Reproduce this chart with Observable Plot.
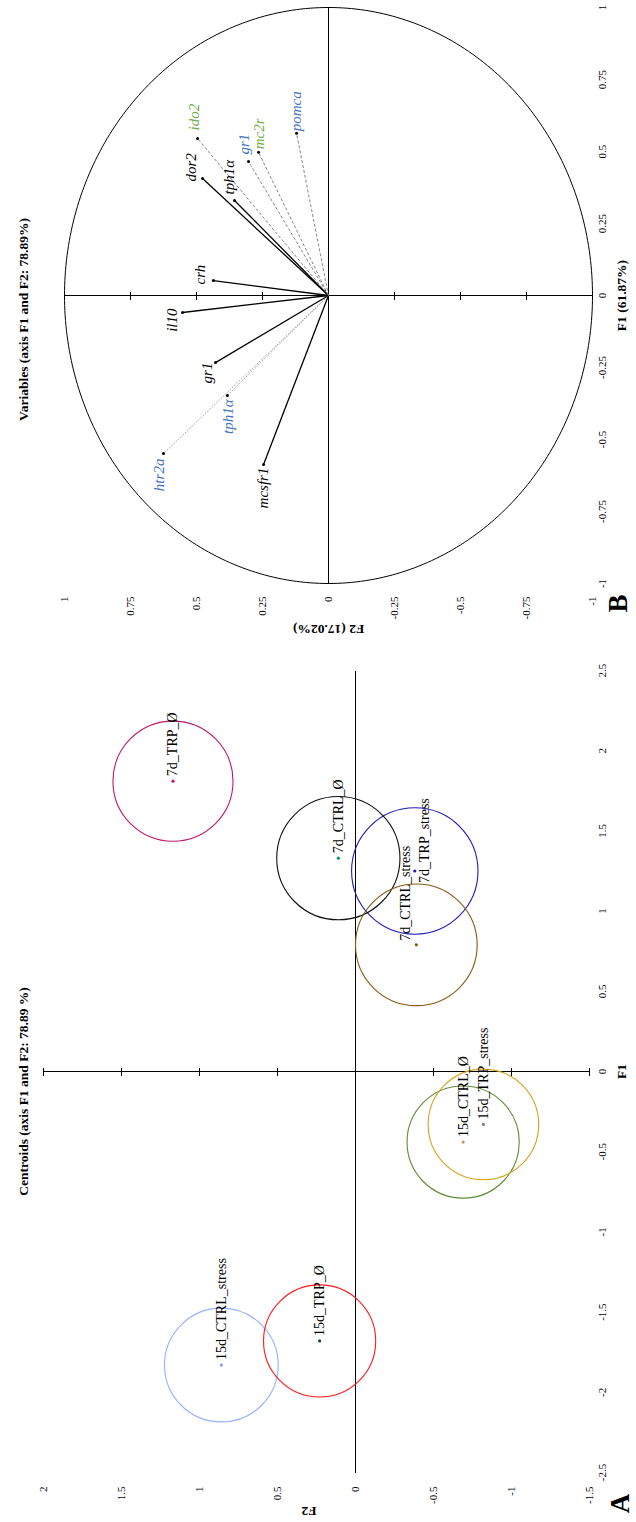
<!DOCTYPE html>
<html><head><meta charset="utf-8">
<script src="https://cdn.jsdelivr.net/npm/d3@7"></script>
<script src="https://cdn.jsdelivr.net/npm/@observablehq/plot@0.6"></script>
<style>
html,body{margin:0;padding:0;background:#fff;}
body{width:636px;height:1522px;overflow:hidden;position:relative;}
#wrap{position:absolute;left:0;top:0;width:1522px;height:636px;transform-origin:0 0;transform:translate(0px,1522px) rotate(-90deg);}
#wrap svg{position:absolute;left:0;top:0;}
</style></head><body><div id="wrap"></div>
<script>
// ---------- Panel A: centroids ----------
const centroidNames  = ["7d_CTRL_Ø","7d_CTRL_stress","7d_TRP_Ø","7d_TRP_stress","15d_CTRL_Ø","15d_CTRL_stress","15d_TRP_Ø","15d_TRP_stress"];
const centroidF1     = [1.33, 0.79, 1.81, 1.25, -0.44, -1.83, -1.68, -0.33];
const centroidF2     = [0.11, -0.39, 1.17, -0.38, -0.69, 0.86, 0.23, -0.82];
const centroidRadius = [0.39, 0.385, 0.38, 0.40, 0.355, 0.36, 0.355, 0.35];
const f1TicksA = [-2.5,-2,-1.5,-1,-0.5,0,0.5,1,1.5,2,2.5];
const f2TicksA = [-1.5,-1,-0.5,0,0.5,1,1.5,2];
const titleA = "Centroids (axis F1 and F2: 78.89 %)";

// ---------- Panel B: variables ----------
const varNames  = ["dor2","tph1α","crh","il10","gr1","mcsfr1","ido2","mc2r","gr1","pomca","tph1α","htr2a"];
const varF1     = [0.406, 0.330, 0.052, -0.059, -0.233, -0.587, 0.545, 0.497, 0.465, 0.563, -0.347, -0.549];
const varF2     = [0.477, 0.356, 0.436, 0.553, 0.428, 0.246, 0.496, 0.265, 0.303, 0.121, 0.383, 0.625];
const varGroup  = ["g1","g1","g1","g1","g1","g1","g3","g3","g2","g2","g2","g2"];
const varLink   = ["l1","l1","l1","l1","l1","l1","l2","l2","l2","l2","l3","l3"];
const f1TicksB = [-1,-0.75,-0.5,-0.25,0,0.25,0.5,0.75,1];
const f2TicksB = [-1,-0.75,-0.5,-0.25,0,0.25,0.5,0.75,1];
const titleB = "Variables (axis F1 and F2: 78.89%)";

// ---------- styles ----------
const circleColor = {"7d_CTRL_Ø":"#111111","7d_CTRL_stress":"#8a5a12","7d_TRP_Ø":"#c0186a","7d_TRP_stress":"#1a1ac0",
  "15d_CTRL_Ø":"#5e8c34","15d_CTRL_stress":"#93b2ff","15d_TRP_Ø":"#ff1a1a","15d_TRP_stress":"#d6a21c"};
const dotColor = {"7d_CTRL_Ø":"#00995a","7d_CTRL_stress":"#8a5a12","7d_TRP_Ø":"#c0186a","7d_TRP_stress":"#1a1ac0",
  "15d_CTRL_Ø":"#c8945a","15d_CTRL_stress":"#7f9fff","15d_TRP_Ø":"#0b4d40","15d_TRP_stress":"#8e7c8e"};
const groupColor = {g1:"#000000", g2:"#4472c4", g3:"#70ad47"};
const linkStyle = {l1:{stroke:"#000", strokeWidth:1.3}, l2:{stroke:"#666", strokeWidth:0.8, strokeDasharray:"3,2"}, l3:{stroke:"#777", strokeWidth:0.9, strokeDasharray:"1,1.5"}};
const serif = "'Liberation Serif','Times New Roman',Times,serif";

const centroids = centroidNames.map((n,i)=>({name:n, f1:centroidF1[i], f2:centroidF2[i], rad:centroidRadius[i]}));
const vars = varNames.map((n,i)=>({name:n, f1:varF1[i], f2:varF2[i], group:varGroup[i], link:varLink[i]}));

const W = 1522, H = 636;
const wrap = document.getElementById("wrap");

// label nudges for centroid labels (layout only)
const cNudge = {"7d_CTRL_stress":{dx:4,dy:-11}, "7d_TRP_stress":{dx:-12,dy:10}};

const plotA = Plot.plot({
  width: W, height: H,
  marginTop: 23, marginBottom: 34, marginLeft: 40, marginRight: 702,
  x: {domain:[-2.5,2.5], range:[49,851], axis:null},
  y: {domain:[-1.5,2], range:[589,43], axis:null},
  r: {type:"linear", domain:[0,1], range:[0,158]},
  color: {type:"identity"},
  style: {background:"transparent", fontFamily: serif, fontSize:"11px", overflow:"visible"},
  marks: [
    Plot.ruleY([0], {x1: ()=>d3.min(f1TicksA), x2: ()=>d3.max(f1TicksA), stroke:"#000", strokeWidth:1}),
    Plot.ruleX([0], {y1: ()=>d3.min(f2TicksA), y2: ()=>d3.max(f2TicksA), stroke:"#000", strokeWidth:1}),
    Plot.ruleY(f2TicksA, {y: d=>d, x1: ()=>0, x2: ()=>0, insetLeft:-4, insetRight:-4, stroke:"#000", strokeWidth:1}),
    Plot.dot(centroids, {x:"f1", y:"f2", r:"rad", stroke: d=>circleColor[d.name], fill:"none", strokeWidth:1.1}),
    Plot.dot(centroids, {x:"f1", y:"f2", r:1.6, fill: d=>dotColor[d.name], stroke:"none"}),
    ...centroids.map(c => Plot.text([c], {x:"f1", y:"f2", text:"name", textAnchor:"start",
        dx: (cNudge[c.name]||{dx:5}).dx, dy: (cNudge[c.name]||{dy:0}).dy, fontSize:14, fill:"#000"})),
    Plot.text(f1TicksA, {x: d=>d, text: d=>String(d), frameAnchor:"bottom", lineAnchor:"middle", fill:"#000", fontSize:11}),
    Plot.text(f2TicksA, {y: d=>d, text: d=>String(d), frameAnchor:"left", textAnchor:"end", lineAnchor:"middle", dx:-5, fill:"#000", fontSize:11}),
    Plot.text(["F1"], {x: ()=>0, text: d=>d, frameAnchor:"bottom", lineAnchor:"middle", dy:19, fontWeight:"bold", fontSize:13.5, fill:"#000"}),
    Plot.text(["F2"], {y: ()=>0.25, text: d=>d, frameAnchor:"left", textAnchor:"start", lineAnchor:"middle", dx:-30, rotate:-90, fontWeight:"bold", fontSize:13.5, fill:"#000"}),
    Plot.text([titleA], {text: d=>d, frameAnchor:"top", lineAnchor:"middle", fontWeight:"bold", fontSize:13.5, fill:"#000"}),
    Plot.text(["A"], {text: d=>d, frameAnchor:"bottom-left", lineAnchor:"middle", dx:-22, dy:18, textAnchor:"middle", fontWeight:"bold", fontSize:27, fill:"#000"})
  ]
});
wrap.appendChild(plotA);

const circlePts = d3.range(0, 361).map(a => ({x: Math.cos(a*Math.PI/180), y: Math.sin(a*Math.PI/180)}));
const vNudge = [
  {a:"start",dx:-3,dy:-11},{a:"start",dx:6,dy:-5},{a:"start",dx:-4,dy:-13},{a:"end",dx:4,dy:-10},
  {a:"end",dx:0,dy:-8},{a:"end",dx:-3,dy:0},{a:"start",dx:8,dy:-3},{a:"start",dx:3,dy:1},
  {a:"start",dx:7,dy:-4},{a:"start",dx:2,dy:0},{a:"end",dx:-4,dy:1},{a:"end",dx:-5,dy:-4}
];

const plotB = Plot.plot({
  width: W, height: H,
  marginTop: 23, marginBottom: 34, marginLeft: 928, marginRight: 46,
  x: {domain:[-1,1], range:[938,1514], axis:null},
  y: {domain:[-1,1], range:[592,64], axis:null},
  color: {type:"identity"},
  style: {background:"transparent", fontFamily: serif, fontSize:"11px", overflow:"visible"},
  marks: [
    Plot.line(circlePts, {x:"x", y:"y", stroke:"#000", strokeWidth:1}),
    Plot.ruleY([0], {x1: ()=>d3.min(f1TicksB), x2: ()=>d3.max(f1TicksB), stroke:"#000", strokeWidth:1}),
    Plot.ruleX([0], {y1: ()=>d3.min(f2TicksB), y2: ()=>d3.max(f2TicksB), stroke:"#000", strokeWidth:1}),
    Plot.ruleY(f2TicksB, {y: d=>d, x1: ()=>0, x2: ()=>0, insetLeft:-4, insetRight:-4, stroke:"#000", strokeWidth:1}),
    ...Object.keys(linkStyle).map(k => Plot.link(vars.filter(v=>v.link===k), {x1: ()=>0, y1: ()=>0, x2:"f1", y2:"f2", ...linkStyle[k]})),
    Plot.dot(vars, {x:"f1", y:"f2", r:1.5, fill:"#000", stroke:"none"}),
    ...vars.map((v,i) => Plot.text([v], {x:"f1", y:"f2", text:"name", textAnchor:vNudge[i].a, dx:vNudge[i].dx, dy:vNudge[i].dy,
        fill: d=>groupColor[d.group], fontStyle:"italic", fontSize:15})),
    Plot.text(f1TicksB, {x: d=>d, text: d=>String(d), frameAnchor:"bottom", lineAnchor:"middle", fill:"#000", fontSize:11}),
    Plot.text(f2TicksB, {y: d=>d, text: d=>String(d), frameAnchor:"left", textAnchor:"end", lineAnchor:"middle", dx:-3, fill:"#000", fontSize:11}),
    Plot.text(["F1 (61.87%)"], {x: ()=>0, text: d=>d, frameAnchor:"bottom", lineAnchor:"middle", dy:19, fontWeight:"bold", fontSize:13.5, fill:"#000"}),
    Plot.text(["F2 (17.02%)"], {y: ()=>0, text: d=>d, frameAnchor:"left", textAnchor:"middle", lineAnchor:"middle", dx:-36, rotate:-90, fontWeight:"bold", fontSize:13.5, fill:"#000"}),
    Plot.text([titleB], {text: d=>d, frameAnchor:"top", lineAnchor:"middle", fontWeight:"bold", fontSize:13.5, fill:"#000"}),
    Plot.text(["B"], {text: d=>d, frameAnchor:"bottom-left", lineAnchor:"middle", dx:-10, dy:16, textAnchor:"middle", fontWeight:"bold", fontSize:27, fill:"#000"})
  ]
});
wrap.appendChild(plotB);
</script></body></html>
